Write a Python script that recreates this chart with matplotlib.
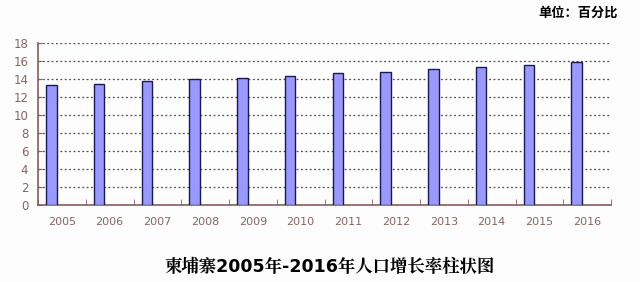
import matplotlib.pyplot as plt
import numpy as np

plt.rcParams['font.family'] = ['Noto Sans CJK SC', 'DejaVu Sans']

years = ['2005', '2006', '2007', '2008', '2009', '2010',
         '2011', '2012', '2013', '2014', '2015', '2016']
rates = [13.27, 13.44, 13.74, 13.97, 14.08, 14.27,
         14.6, 14.78, 15.04, 15.3, 15.49, 15.82]

axis_col = '#8c5a5a'
text_col = '#85665e'

fig = plt.figure(figsize=(6.4, 2.82), dpi=100, facecolor='#fdfdfd')
ax = fig.add_axes([38/640, 0.274, 573/640, 0.575])
ax.set_facecolor('#fdfdfd')

x = np.arange(len(years))
ax.bar(x - 0.22, rates, width=0.22, color='#9999ff', edgecolor='#1a1a50',
       linewidth=1.0, zorder=3)

ax.set_xlim(-0.5, len(years) - 0.5)
ax.set_ylim(0, 18)
ax.set_yticks(range(0, 19, 2))
ax.yaxis.grid(True, linestyle=(0, (1.5, 2)), color='#7a3a3a', linewidth=0.9)
ax.set_axisbelow(True)

ax.set_xticks(x)
ax.set_xticklabels(years)
ax.set_xticks(np.arange(-0.5, len(years)), minor=True)
ax.tick_params(axis='x', which='major', length=0, pad=9,
               labelsize=8, labelcolor=text_col)
ax.tick_params(axis='x', which='minor', length=4, direction='in', color=axis_col)
ax.tick_params(axis='y', length=3, direction='in', color=axis_col,
               labelsize=8.5, labelcolor=text_col, pad=7)
for lbl in ax.get_xticklabels() + ax.get_yticklabels():
    lbl.set_family(['DejaVu Sans'])

for side in ['top', 'right']:
    ax.spines[side].set_visible(False)
for side in ['left', 'bottom']:
    ax.spines[side].set_color(axis_col)
    ax.spines[side].set_linewidth(1.2)

fig.text(0.515, 0.053, '柬埔寨2005年-2016年人口增长率柱状图', ha='center', va='center',
         fontsize=12.5, fontweight='bold', family=['DejaVu Sans', 'Noto Serif CJK SC'])
fig.text(0.965, 0.955, '单位：百分比', ha='right', va='center',
         fontsize=9.5, fontweight='bold')

fig.savefig('out.png', dpi=100, facecolor=fig.get_facecolor())
